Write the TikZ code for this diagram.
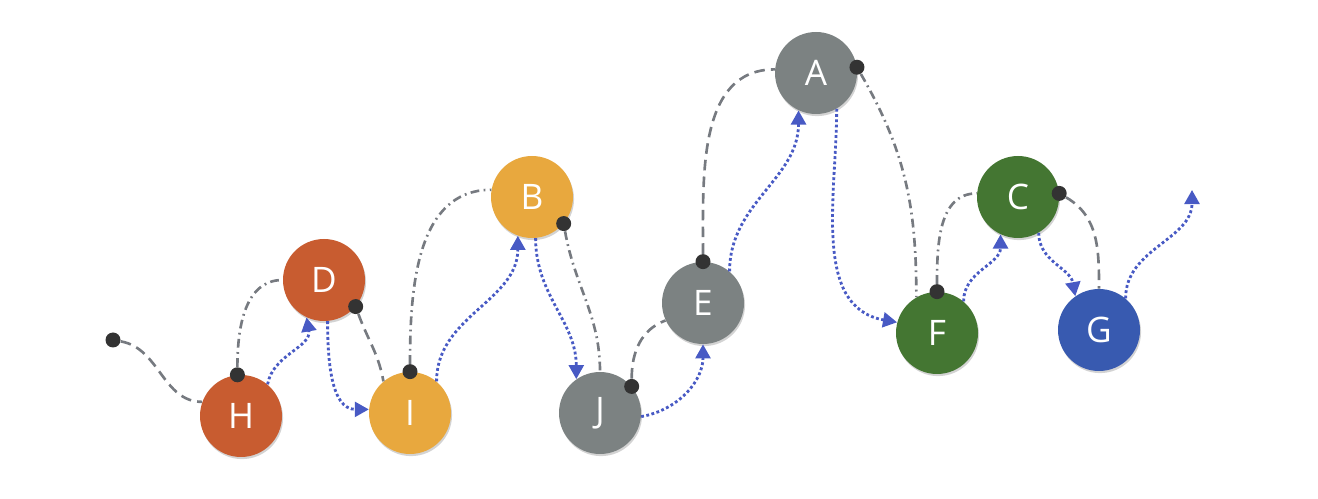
\documentclass[tikz,border=0pt]{standalone}
\usepackage{fontspec}
\setsansfont{Open Sans}
\usetikzlibrary{arrows.meta,shadows}
\definecolor{rustfill}{RGB}{200,92,48}
\definecolor{goldfill}{RGB}{232,168,62}
\definecolor{stonefill}{RGB}{124,130,130}
\definecolor{mossfill}{RGB}{68,118,50}
\definecolor{inkfill}{RGB}{56,90,176}
\definecolor{threadgray}{RGB}{118,122,128}
\definecolor{walkblue}{RGB}{72,90,196}
\tikzset{
  vertex/.style={circle,minimum size=1.64cm,inner sep=0pt,text=white,
    font=\sffamily\fontsize{20}{24}\selectfont,
    drop shadow={shadow xshift=0.6pt,shadow yshift=-1.2pt,opacity=.35}},
  knot/.style={circle,fill=black!80,minimum size=0.3cm,inner sep=0pt},
  thread/.style={threadgray,line width=1.5pt,dash pattern=on 6pt off 3.5pt},
  dotthread/.style={threadgray,line width=1.5pt,dash pattern=on 5pt off 2.5pt on 1pt off 2.5pt},
  walk/.style={walkblue,line width=1.6pt,dash pattern=on 1.6pt off 1.4pt,
    -{Triangle[length=8pt,width=8.5pt]}}
}
\begin{document}
\begin{tikzpicture}
  \useasboundingbox (0,0) rectangle (26.36,9.96);
  \node[vertex,fill=rustfill] (H) at (4.82,1.64) {H};
  \node[vertex,fill=rustfill] (D) at (6.48,4.36) {D};
  \node[vertex,fill=goldfill] (I) at (8.20,1.70) {I};
  \node[vertex,fill=goldfill] (B) at (10.64,6.02) {B};
  \node[vertex,fill=stonefill] (J) at (12.00,1.70) {J};
  \node[vertex,fill=stonefill] (E) at (14.06,3.90) {E};
  \node[vertex,fill=stonefill] (A) at (16.32,8.50) {A};
  \node[vertex,fill=mossfill] (F) at (18.74,3.30) {F};
  \node[vertex,fill=mossfill] (C) at (20.36,6.02) {C};
  \node[vertex,fill=inkfill] (G) at (21.98,3.36) {G};
  \node[knot] (s) at (2.26,3.16) {};
  \node[knot] (kH) at (H.95) {};
  \node[knot] (kD) at (D.-40) {};
  \node[knot] (kI) at (I.90) {};
  \node[knot] (kB) at (B.-40) {};
  \node[knot] (kJ) at (J.40) {};
  \node[knot] (kE) at (E.90) {};
  \node[knot] (kA) at (A.8) {};
  \node[knot] (kF) at (F.90) {};
  \node[knot] (kC) at (C.5) {};
  \coordinate (end) at (23.84,6.16);
  % threads
  \begin{scope}
    \draw[thread] (s) to[out=-10,in=180] (H.160);
    \draw[dotthread] (kH) to[out=90,in=180] (D.180);
    \draw[thread] (kD) to[out=-70,in=100] (I.130);
    \draw[dotthread] (kI) to[out=90,in=180] (B.170);
    \draw[dotthread] (kB) to[out=-80,in=90] (J.90);
    \draw[thread] (kJ) to[out=90,in=200] (E.205);
    \draw[thread] (kE) to[out=90,in=180] (A.175);
    \draw[dotthread] (kA) to[out=-60,in=90] (F.120);
    \draw[dotthread] (kF) to[out=90,in=180] (C.175);
    \draw[thread] (kC) to[out=-30,in=90] (G.90);
  \end{scope}
  % walk
  \begin{scope}
    \draw[walk] (H.50) to[out=80,in=-80] (D.-115);
    \draw[walk] (D.-85) to[out=-90,in=180] (I.175);
    \draw[walk] (I.50) to[out=90,in=-90] (B.-110);
    \draw[walk] (B.-85) to[out=-90,in=90] (J.125);
    \draw[walk] (J.-5) to[out=10,in=-90] (E.-90);
    \draw[walk] (E.50) to[out=90,in=-90] (A.-115);
    \draw[walk] (A.-60) to[out=-90,in=170] (F.165);
    \draw[walk] (F.50) to[out=90,in=-90] (C.-115);
    \draw[walk] (C.-60) to[out=-90,in=100] (G.125);
    \draw[walk] (G.50) to[out=90,in=-90] (end);
  \end{scope}
\end{tikzpicture}
\end{document}
